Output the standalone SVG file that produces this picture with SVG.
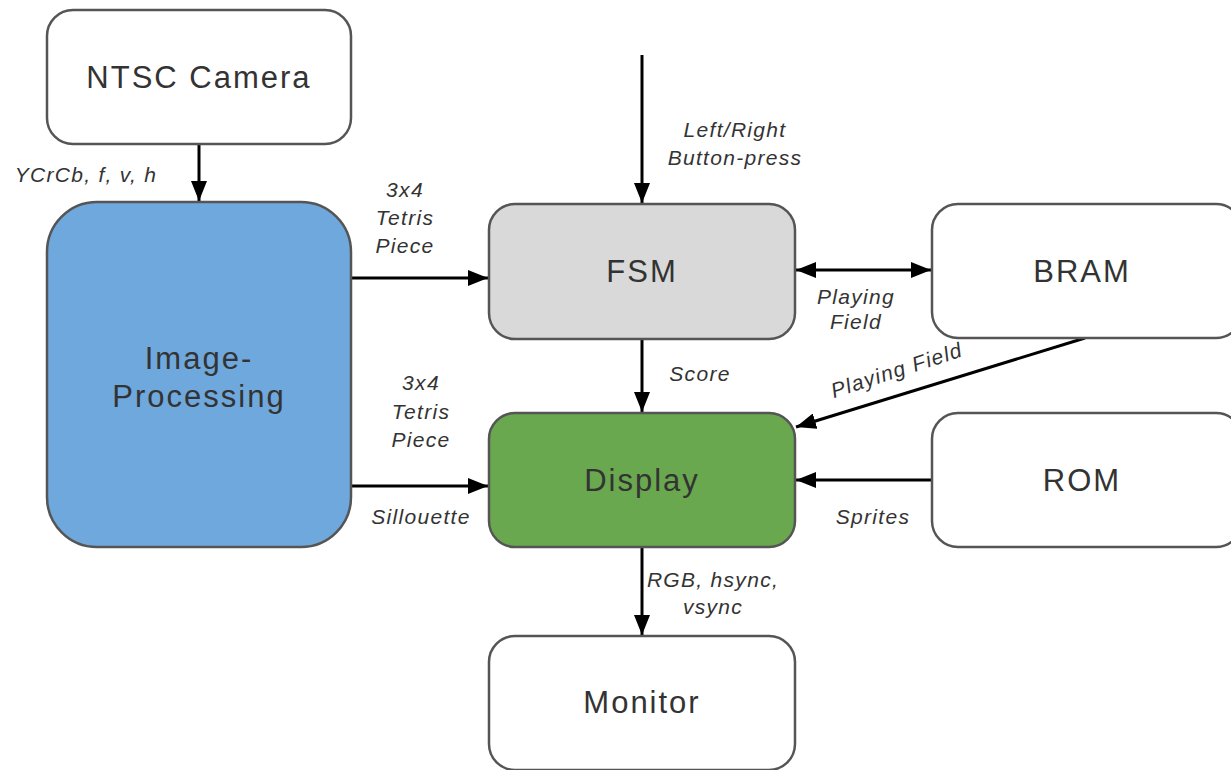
<svg xmlns="http://www.w3.org/2000/svg" width="1231" height="770" viewBox="0 0 1231 770">
<style>
.node{stroke:#555;stroke-width:2.5}
.nl{font-family:"Liberation Sans",Arial,sans-serif;font-size:31px;letter-spacing:2px;fill:#333;text-anchor:middle;dominant-baseline:central}
.el{font-family:"Liberation Sans",Arial,sans-serif;font-size:21px;letter-spacing:1.3px;font-style:italic;fill:#333;text-anchor:middle}
.c{stroke:#000;stroke-width:3;fill:none}
</style>
<defs>
<marker id="ah" viewBox="0 0 20 16" refX="20" refY="8" markerWidth="20" markerHeight="16" markerUnits="userSpaceOnUse" orient="auto-start-reverse"><path d="M0,0 L20,8 L0,16 Z" fill="#000"/></marker>
</defs>
<rect width="1231" height="770" fill="#fff"/>
<g id="connectors">
<line class="c" x1="199" y1="145" x2="199" y2="201" marker-end="url(#ah)"/>
<line class="c" x1="352" y1="278" x2="488" y2="278" marker-end="url(#ah)"/>
<line class="c" x1="352" y1="486" x2="488" y2="486" marker-end="url(#ah)"/>
<line class="c" x1="642" y1="55" x2="642" y2="203" marker-end="url(#ah)"/>
<line class="c" x1="642" y1="340" x2="642" y2="412" marker-end="url(#ah)"/>
<line class="c" x1="796" y1="270" x2="931" y2="270" marker-start="url(#ah)" marker-end="url(#ah)"/>
<line class="c" x1="1085" y1="338" x2="796" y2="427" marker-end="url(#ah)"/>
<line class="c" x1="931" y1="480" x2="796" y2="480" marker-end="url(#ah)"/>
<line class="c" x1="642" y1="548" x2="642" y2="635" marker-end="url(#ah)"/>
<text class="el" x="86" y="182">YCrCb, f, v, h</text>
<text class="el" x="405" y="197">3x4</text>
<text class="el" x="405" y="225">Tetris</text>
<text class="el" x="405" y="253">Piece</text>
<text class="el" x="421" y="390">3x4</text>
<text class="el" x="421" y="419">Tetris</text>
<text class="el" x="421" y="447">Piece</text>
<text class="el" x="421" y="524">Sillouette</text>
<text class="el" x="735" y="137">Left/Right</text>
<text class="el" x="735" y="165">Button-press</text>
<text class="el" x="700" y="381">Score</text>
<text class="el" x="856" y="304">Playing</text>
<text class="el" x="856" y="329">Field</text>
<text class="el" x="0" y="0" transform="translate(899,377) rotate(-18)">Playing Field</text>
<text class="el" x="873" y="524">Sprites</text>
<text class="el" x="713" y="587">RGB, hsync,</text>
<text class="el" x="713" y="614">vsync</text>
</g>
<g id="camera"><rect class="node" x="47" y="10" width="304" height="134" rx="26" fill="#fff"/><text class="nl" x="199" y="77">NTSC Camera</text></g>
<g id="imgproc"><rect class="node" x="47" y="202" width="304" height="345" rx="50" fill="#6fa8dc"/><text class="nl" x="199" y="358">Image-</text><text class="nl" x="199" y="396">Processing</text></g>
<g id="fsm"><rect class="node" x="489" y="204" width="306" height="135" rx="26" fill="#d9d9d9"/><text class="nl" x="642" y="271">FSM</text></g>
<g id="bram"><rect class="node" x="932" y="204" width="310" height="134" rx="26" fill="#fff"/><text class="nl" x="1082" y="271">BRAM</text></g>
<g id="display"><rect class="node" x="489" y="413" width="306" height="134" rx="26" fill="#6aa84f"/><text class="nl" x="642" y="480">Display</text></g>
<g id="rom"><rect class="node" x="932" y="413" width="310" height="134" rx="26" fill="#fff"/><text class="nl" x="1082" y="480">ROM</text></g>
<g id="monitor"><rect class="node" x="489" y="636" width="306" height="134" rx="26" fill="#fff"/><text class="nl" x="642" y="702">Monitor</text></g>
</svg>
